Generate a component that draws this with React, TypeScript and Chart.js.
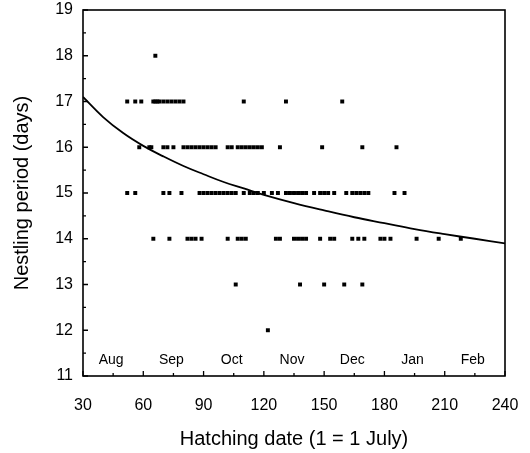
import { useEffect, useRef } from "react";
import { Chart, registerables } from "chart.js";
Chart.register(...registerables);

// Hatching dates (x) of nests, grouped by nestling period (days)
const period18 = [66];
const period17 = [52, 56, 59, 65, 66, 67, 68, 70, 72, 74, 76, 78, 80, 110, 131, 159];
const period16 = [58, 63, 64, 70, 72, 75, 80, 82, 84, 86, 88, 90, 92, 94, 96, 102, 104, 107, 109, 111, 113, 115, 117, 119, 128, 149, 169, 186];
const period15 = [52, 56, 70, 73, 79, 88, 90, 92, 94, 96, 98, 100, 102, 104, 106, 110, 113, 115, 117, 120, 124, 127, 131, 133, 135, 137, 139, 141, 145, 148, 150, 152, 155, 161, 164, 166, 168, 170, 172, 185, 190];
const period14 = [65, 73, 82, 84, 86, 89, 102, 107, 109, 111, 126, 128, 135, 137, 139, 141, 148, 153, 155, 164, 167, 170, 178, 180, 183, 196, 207, 218];
const period13 = [106, 138, 150, 160, 169];
const period12 = [122];

const periodGroups: [number, number[]][] = [
  [18, period18], [17, period17], [16, period16], [15, period15],
  [14, period14], [13, period13], [12, period12],
];

// Fitted curve
const curveX = [30, 40, 50, 60, 70, 80, 90, 100, 110, 120, 135, 150, 165, 180, 195, 210, 225, 240];
const curveY = [17.1, 16.66, 16.31, 16.03, 15.8, 15.59, 15.41, 15.24, 15.1, 14.96, 14.78, 14.62, 14.47, 14.34, 14.21, 14.1, 14.0, 13.9];

// Month labels inside the plot
const monthNames = ["Aug", "Sep", "Oct", "Nov", "Dec", "Jan", "Feb"];
const monthX = [44, 74, 104, 134, 164, 194, 224];
const monthY = 11.35;

const xMin = 30, xMax = 240, xStep = 30;
const yMin = 11, yMax = 19, yStep = 1;

const FONT = "'Liberation Sans', Arial, Helvetica, sans-serif";

const framePlugin = {
  id: "frameTicks",
  afterDraw(chart: any) {
    const { ctx, chartArea: a, scales } = chart;
    const xs = scales.x, ys = scales.y;
    ctx.save();
    ctx.strokeStyle = "#000";
    ctx.lineWidth = 1.6;
    ctx.strokeRect(a.left, a.top, a.right - a.left, a.bottom - a.top);
    ctx.lineWidth = 1.3;
    ctx.beginPath();
    for (let v = xMin; v <= xMax; v += xStep / 2) {
      const px = xs.getPixelForValue(v);
      const len = (v - xMin) % xStep === 0 ? 5 : 3;
      ctx.moveTo(px, a.bottom);
      ctx.lineTo(px, a.bottom - len);
    }
    for (let v = yMin; v <= yMax; v += yStep / 2) {
      const py = ys.getPixelForValue(v);
      const len = (v - yMin) % yStep === 0 ? 5 : 3;
      ctx.moveTo(a.left, py);
      ctx.lineTo(a.left + len, py);
    }
    ctx.stroke();
    ctx.fillStyle = "#000";
    ctx.font = `14px ${FONT}`;
    ctx.textAlign = "center";
    ctx.textBaseline = "middle";
    monthNames.forEach((m, i) => {
      ctx.fillText(m, xs.getPixelForValue(monthX[i]), ys.getPixelForValue(monthY));
    });
    ctx.restore();
  },
};

export default function App() {
  const ref = useRef<HTMLCanvasElement | null>(null);
  useEffect(() => {
    if (!ref.current) return;
    const points: { x: number; y: number }[] = [];
    periodGroups.forEach(([y, xsArr]) => xsArr.forEach((x) => points.push({ x, y })));
    const curve = curveX.map((x, i) => ({ x, y: curveY[i] }));
    const chart = new Chart(ref.current, {
      type: "scatter",
      data: {
        datasets: [
          {
            data: points,
            pointStyle: "rect",
            radius: 2.8,
            backgroundColor: "#000",
            borderColor: "#000",
            borderWidth: 0,
          },
          {
            type: "line",
            data: curve,
            borderColor: "#000",
            borderWidth: 1.8,
            pointRadius: 0,
            tension: 0.4,
            fill: false,
          } as any,
        ],
      },
      options: {
        animation: false,
        responsive: false,
        devicePixelRatio: 1,
        layout: { padding: { left: 0, top: 10, right: 25, bottom: 0 } },
        plugins: { legend: { display: false }, tooltip: { enabled: false } },
        scales: {
          x: {
            type: "linear",
            min: xMin,
            max: xMax,
            grid: { display: false, drawTicks: false },
            border: { display: false },
            ticks: { stepSize: xStep, color: "#000", font: { size: 16, family: FONT }, padding: 20, maxRotation: 0 },
            title: { display: true, text: "Hatching date (1 = 1 July)", color: "#000", font: { size: 20, family: FONT }, padding: { top: 0, bottom: 2 } },
            afterFit: (s: any) => { s.height = 77; s.paddingLeft = 0; s.paddingRight = 0; },
          },
          y: {
            type: "linear",
            min: yMin,
            max: yMax,
            grid: { display: false, drawTicks: false },
            border: { display: false },
            ticks: { stepSize: yStep, color: "#000", font: { size: 16, family: FONT }, padding: 10 },
            title: { display: true, text: "Nestling period (days)", color: "#000", font: { size: 20, family: FONT }, padding: { top: 10, bottom: 0 } },
            afterFit: (s: any) => { s.width = 83; s.paddingTop = 0; s.paddingBottom = 0; },
          },
        },
      },
      plugins: [framePlugin],
    });
    return () => chart.destroy();
  }, []);
  return (
    <div style={{ position: "fixed", left: 0, top: 0, width: 530, height: 453, background: "#fff" }}>
      <canvas ref={ref} width={530} height={453} style={{ width: 530, height: 453 }} />
    </div>
  );
}
